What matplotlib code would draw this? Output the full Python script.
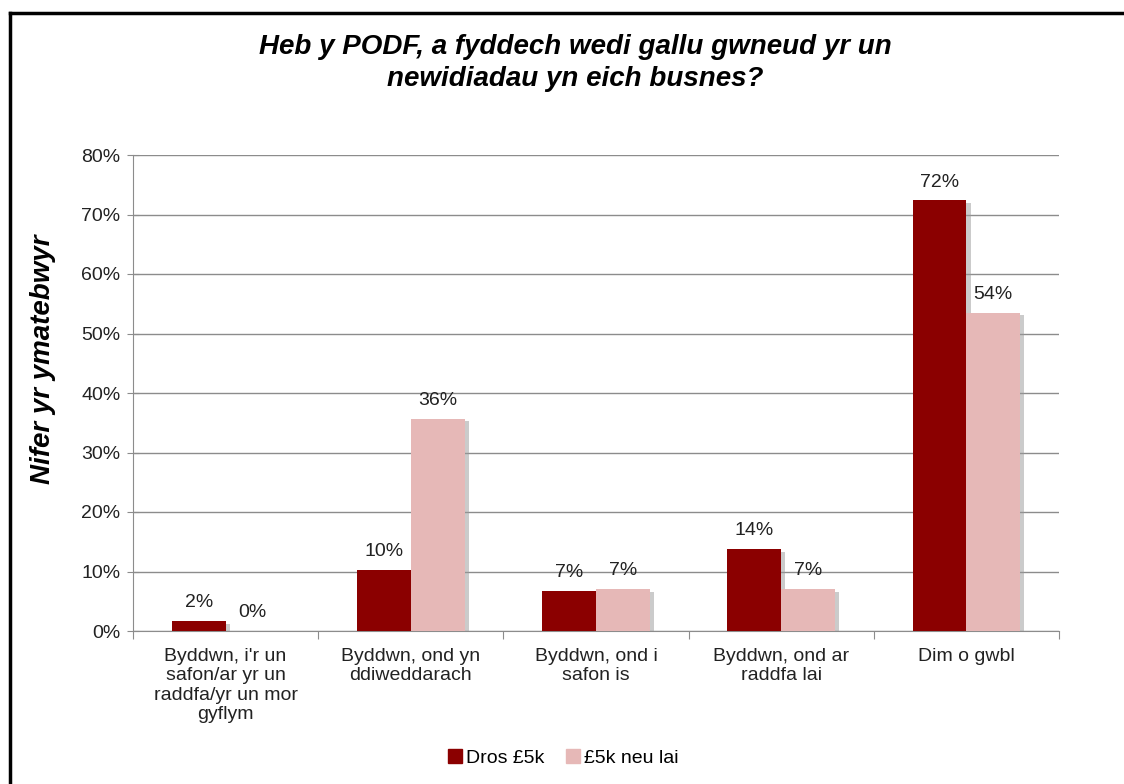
import matplotlib.pyplot as plt
import matplotlib.patheffects as pe
import numpy as np
from matplotlib.ticker import FuncFormatter
from matplotlib.lines import Line2D

categories = ["Byddwn, i'r un\nsafon/ar yr un\nraddfa/yr un mor\ngyflym",
              "Byddwn, ond yn\nddiweddarach",
              "Byddwn, ond i\nsafon is",
              "Byddwn, ond ar\nraddfa lai",
              "Dim o gwbl"]
dros_5k = [1.7, 10.3, 6.8, 13.8, 72.4]
llai_5k = [0.0, 35.7, 7.1, 7.1, 53.5]
series_names = ["Dros £5k", "£5k neu lai"]
colors = ["#8B0000", "#E6B8B7"]

plt.rcParams['font.family'] = ['Liberation Sans', 'DejaVu Sans']

fig = plt.figure(figsize=(11.24, 7.84), dpi=100)
ax = fig.add_axes([133 / 1124, 1 - 631 / 784, 926 / 1124, 476 / 784])

x = np.arange(len(categories))
w = 0.29
shadow = [pe.SimplePatchShadow(offset=(3, -2), shadow_rgbFace='#999999', alpha=0.5), pe.Normal()]
for i, (vals, col) in enumerate(zip([dros_5k, llai_5k], colors)):
    pos = x + (i - 0.5) * w
    ax.bar(pos, vals, width=w, color=col, zorder=3, path_effects=shadow)
    for p, v in zip(pos, vals):
        ax.text(p, v + 1.6, f"{round(v):.0f}%", ha='center', va='bottom',
                fontsize=14, color='#222222', zorder=4)

ax.set_xlim(-0.5, len(categories) - 0.5)
ax.set_ylim(0, 80)
ax.set_yticks(range(0, 81, 10))
ax.yaxis.set_major_formatter(FuncFormatter(lambda v, _: f"{v:.0f}%"))
ax.yaxis.grid(True, color='#8c8c8c', linewidth=1, zorder=0)
ax.set_axisbelow(True)

ax.set_xticks(np.arange(len(categories) + 1) - 0.5)
ax.set_xticklabels([])
ax.set_xticks(x, minor=True)
ax.set_xticklabels(categories, minor=True, fontsize=14, color='#222222', linespacing=1.2)
ax.tick_params(axis='x', which='major', length=6, color='#8c8c8c', direction='out')
ax.tick_params(axis='x', which='minor', length=0, pad=12)
ax.tick_params(axis='y', length=8, color='#8c8c8c', direction='inout', labelsize=14,
               labelcolor='#222222', pad=5)

for s in ['top', 'right']:
    ax.spines[s].set_visible(False)
for s in ['left', 'bottom']:
    ax.spines[s].set_color('#8c8c8c')

ax.set_ylabel("Nifer yr ymatebwyr", fontsize=20, fontweight='bold', style='italic')
ax.yaxis.set_label_coords(-0.083, 0.57)

fig.text(0.512, 1 - 63 / 784, "Heb y PODF, a fyddech wedi gallu gwneud yr un\nnewidiadau yn eich busnes?",
         ha='center', va='center', fontsize=20, fontweight='bold', style='italic', linespacing=1.35)

handles = [Line2D([], [], marker='s', linestyle='none', markersize=9.5, color=c) for c in colors]
fig.legend(handles, series_names, loc='center', bbox_to_anchor=(0.5, 1 - 758 / 784), ncol=2,
           frameon=False, fontsize=14, handletextpad=0.05, columnspacing=1.0, handlelength=1.0)

# outer frame (left and top edges)
fig.add_artist(Line2D([10 / 1124, 10 / 1124], [0, 1 - 13 / 784], transform=fig.transFigure,
                      color='black', linewidth=2.5))
fig.add_artist(Line2D([10 / 1124, 1], [1 - 13 / 784, 1 - 13 / 784], transform=fig.transFigure,
                      color='black', linewidth=2.5))

fig.savefig("out.png", dpi=100)
